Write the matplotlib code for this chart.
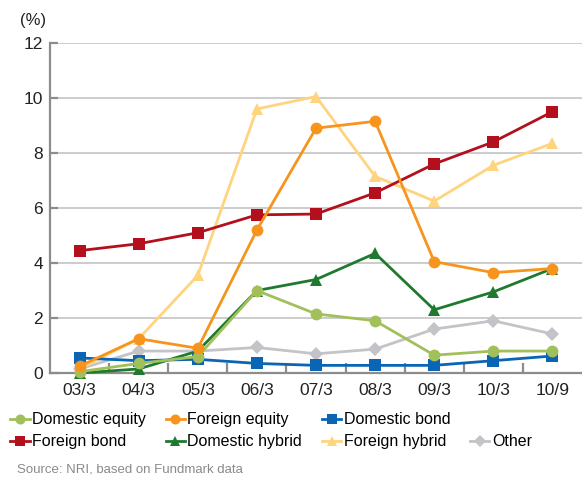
import numpy as np
import matplotlib
matplotlib.use("Agg")
import matplotlib.pyplot as plt
from matplotlib.lines import Line2D

plt.rcParams['font.family'] = ['Liberation Sans', 'DejaVu Sans']

periods = ['03/3', '04/3', '05/3', '06/3', '07/3', '08/3', '09/3', '10/3', '10/9']

domestic_equity = [0.05, 0.35, 0.6, 3.0, 2.15, 1.9, 0.65, 0.8, 0.8]
foreign_equity = [0.25, 1.25, 0.9, 5.2, 8.9, 9.15, 4.05, 3.65, 3.8]
domestic_bond = [0.55, 0.45, 0.5, 0.35, 0.28, 0.28, 0.28, 0.45, 0.62]
foreign_bond = [4.45, 4.7, 5.1, 5.75, 5.78, 6.55, 7.6, 8.4, 9.5]
domestic_hybrid = [0.0, 0.15, 0.8, 3.0, 3.4, 4.35, 2.3, 2.95, 3.8]
foreign_hybrid = [0.15, 1.25, 3.55, 9.6, 10.05, 7.15, 6.25, 7.55, 8.35]
other = [0.15, 0.8, 0.8, 0.93, 0.7, 0.87, 1.6, 1.9, 1.42]

# (label, values, color, marker, markersize, zorder)
series = [
    ('Other', other, '#c3c3c8', 'D', 7.5, 3),
    ('Foreign hybrid', foreign_hybrid, '#ffd47f', '^', 9, 4),
    ('Foreign bond', foreign_bond, '#b30f1c', 's', 8.5, 5),
    ('Domestic hybrid', domestic_hybrid, '#1f7a2f', '^', 9, 6),
    ('Domestic bond', domestic_bond, '#0a66b4', 's', 8.5, 7),
    ('Domestic equity', domestic_equity, '#a2c05a', 'o', 8.5, 8),
    ('Foreign equity', foreign_equity, '#f7941e', 'o', 8.5, 9),
]

fig = plt.figure(figsize=(5.82, 4.82), dpi=100)
ax = fig.add_axes([0.086, 0.226, 0.914, 0.685])

x = np.arange(len(periods))
handles = {}
for label, vals, color, mk, ms, z in series:
    h, = ax.plot(x, vals, color=color, lw=2.0, marker=mk, markersize=ms,
                 markeredgewidth=0, zorder=z, clip_on=False, label=label)
    handles[label] = h

ax.set_xlim(-0.5, len(periods) - 0.5)
ax.set_ylim(0, 12)
ax.set_yticks(np.arange(0, 13, 2))
ax.set_xticks(x)
ax.set_xticklabels(periods)
ax.set_xticks(np.arange(0.5, len(periods) - 0.5, 1), minor=True)

ax.yaxis.grid(True, color='#c8c8c8', lw=1.3)
ax.set_axisbelow(True)
for side in ['top', 'right']:
    ax.spines[side].set_visible(False)
for side in ['left', 'bottom']:
    ax.spines[side].set_color('#8c8c8c')
    ax.spines[side].set_linewidth(1.6)

ax.tick_params(axis='y', direction='in', length=6, width=1.6, color='#8c8c8c',
               labelsize=12.5, pad=5, labelcolor='#222222')
ax.tick_params(axis='x', which='major', length=0, labelsize=12.5, pad=7,
               labelcolor='#222222')
ax.tick_params(axis='x', which='minor', direction='in', length=7, width=1.6,
               color='#8c8c8c')

fig.text(0.035, 0.958, '(%)', fontsize=12, color='#222222', ha='left', va='center')

# legend laid out row by row: four columns, first row has a blank slot
blank = Line2D([], [], color='none')
order = [handles['Domestic equity'], handles['Foreign bond'],
         handles['Foreign equity'], handles['Domestic hybrid'],
         handles['Domestic bond'], handles['Foreign hybrid'],
         blank, handles['Other']]
labels = ['Domestic equity', 'Foreign bond', 'Foreign equity', 'Domestic hybrid',
          'Domestic bond', 'Foreign hybrid', '', 'Other']
fig.legend(order, labels, ncol=4, loc='upper left', bbox_to_anchor=(0.018, 0.145),
           frameon=False, fontsize=11.5, handlelength=1.2, handletextpad=0.15,
           columnspacing=1.25, labelspacing=0.45, borderaxespad=0, borderpad=0,
           markerscale=0.85)

fig.text(0.03, 0.026, 'Source: NRI, based on Fundmark data', fontsize=9.5,
         color='#8a8a8a', ha='left', va='center')

fig.savefig('out.png', dpi=100)
